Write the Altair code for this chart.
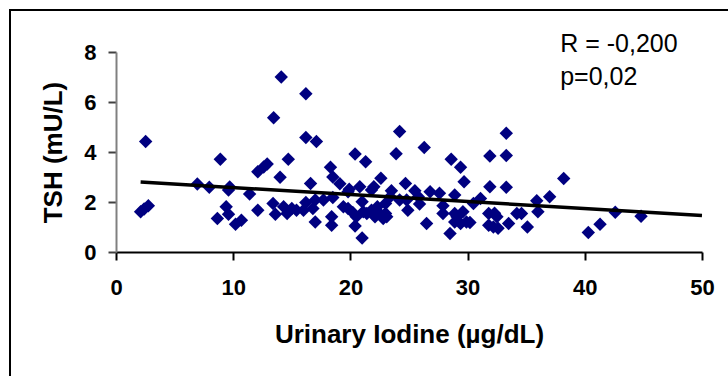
import altair as alt
import pandas as pd

# Urinary iodine (µg/dL)
iodine = [2.1, 2.4, 2.76, 2.53, 6.94, 7.96, 8.65, 8.9, 9.4, 9.6, 9.6, 9.7, 10.2, 10.7,
          11.4, 12.1, 12.1, 12.6, 12.9, 13.45, 13.4, 13.6, 14.0, 14.1, 14.3, 14.6, 14.7,
          15.0, 15.4, 16.0, 16.2, 16.2, 16.2, 16.6, 16.8, 17.0, 17.1, 17.0, 17.7, 18.3,
          18.4, 18.4, 18.5, 18.5, 19.1, 19.4, 19.8, 19.9, 19.8, 20.2, 20.4, 20.5, 20.4,
          20.8, 21.0, 21.0, 21.1, 21.3, 21.4, 21.8, 21.8, 22.0, 22.1, 22.3, 22.5, 22.6,
          22.7, 22.8, 23.0, 23.0, 23.1, 23.4, 23.5, 23.9, 24.2, 24.2, 24.7, 24.8, 24.9,
          25.5, 25.8, 25.9, 26.3, 26.5, 26.8, 27.6, 27.9, 27.9, 28.5, 28.6, 28.9, 28.9,
          28.9, 29.1, 29.4, 29.4, 29.6, 29.7, 29.9, 30.2, 30.5, 31.1, 31.8, 31.8, 31.9,
          31.9, 32.2, 32.3, 32.5, 32.6, 33.3, 33.3, 33.3, 33.5, 34.2, 34.6, 35.1, 35.9,
          36.0, 37.0, 38.2, 40.3, 41.3, 42.6, 44.8]
# TSH (mU/L)
tsh = [1.61, 1.72, 1.85, 4.42, 2.72, 2.59, 1.34, 3.71, 1.81, 1.51, 2.48, 2.6, 1.11, 1.27,
       2.32, 1.67, 3.21, 3.4, 3.52, 5.37, 1.94, 1.51, 2.99, 7.0, 1.81, 1.54, 3.71,
       1.74, 1.67, 1.67, 1.98, 4.58, 6.33, 2.74, 1.74, 1.2, 4.42, 2.08, 2.08, 3.39,
       1.07, 1.41, 2.18, 3.0, 2.73, 1.81, 2.41, 2.51, 1.74, 1.58, 1.04, 1.41, 3.92,
       2.61, 2.01, 0.56, 1.61, 3.61, 1.54, 2.48, 1.67, 2.61, 1.41, 1.81, 1.54, 2.95,
       1.41, 1.34, 1.94, 1.54, 1.41, 2.21, 2.45, 3.93, 4.82, 2.08, 2.74, 2.08, 1.67,
       2.45, 2.21, 1.92, 4.18, 1.14, 2.41, 2.35, 1.85, 1.54, 0.74, 3.71, 2.28, 1.54,
       1.2, 1.41, 3.39, 1.14, 1.61, 2.81, 1.2, 1.18, 1.94, 2.14, 1.54, 1.07, 2.61,
       3.84, 1.0, 1.55, 1.41, 0.95, 4.75, 3.86, 2.59, 1.14, 1.54, 1.54, 1.0, 2.05,
       1.61, 2.21, 2.94, 0.78, 1.11, 1.59, 1.43]

# Trend line endpoints
trend_x = [2.1, 50]
trend_y = [2.80, 1.46]

# Annotation
ann_text = ["R = -0,200", "p=0,02"]
ann_x = [37.9, 37.9]
ann_y = [8.02, 6.69]

x_ticks = [0, 10, 20, 30, 40, 50]
y_ticks = [0, 2, 4, 6, 8]

pts = pd.DataFrame({"iodine": iodine, "tsh": tsh})
trend = pd.DataFrame({"iodine": trend_x, "tsh": trend_y})
ann = pd.DataFrame({"text": ann_text, "iodine": ann_x, "tsh": ann_y})

FONT = "Liberation Sans"

xscale = alt.Scale(domain=[0, 50], nice=False, zero=False)
yscale = alt.Scale(domain=[0, 8], nice=False, zero=False)

xaxis = alt.Axis(values=x_ticks, title="Urinary Iodine (µg/dL)", grid=False,
                 domainColor="#000000", domainWidth=2, tickColor="#000000", tickWidth=2,
                 tickSize=8, labelFont=FONT, labelFontSize=22, labelFontWeight="bold",
                 labelColor="#000000", labelPadding=17, titleFont=FONT, titleFontSize=26,
                 titleFontWeight="bold", titleColor="#000000", titlePadding=23,
                 labelFlush=False)
yaxis = alt.Axis(values=y_ticks, title="TSH (mU/L)", grid=False,
                 domainColor="#808080", domainWidth=2, tickColor="#404040", tickWidth=2,
                 tickSize=8, labelFont=FONT, labelFontSize=22, labelFontWeight="bold",
                 labelColor="#000000", labelPadding=12, titleFont=FONT, titleFontSize=26,
                 titleFontWeight="bold", titleColor="#000000", titlePadding=17,
                 labelFlush=False)

points = alt.Chart(pts).mark_point(shape="diamond", filled=True, size=180,
                                   color="#000080", opacity=1).encode(
    x=alt.X("iodine:Q", scale=xscale, axis=xaxis),
    y=alt.Y("tsh:Q", scale=yscale, axis=yaxis),
)

line = alt.Chart(trend).mark_line(color="#000000", strokeWidth=3.5).encode(
    x=alt.X("iodine:Q", scale=xscale),
    y=alt.Y("tsh:Q", scale=yscale),
)

texts = alt.Chart(ann).mark_text(font=FONT, fontSize=25, align="left",
                                 baseline="alphabetic", color="#000000").encode(
    x=alt.X("iodine:Q", scale=xscale),
    y=alt.Y("tsh:Q", scale=yscale),
    text="text:N",
)

frame = alt.Chart(pd.DataFrame({"a": [0]})).mark_rect(
    filled=False, stroke="#000000", strokeWidth=2, fill=None).encode(
    x=alt.value(-106), x2=alt.value(700), y=alt.value(-42), y2=alt.value(400)
)

chart = alt.layer(frame, points, line, texts).properties(
    width=586, height=200,
    autosize=alt.AutoSizeParams(type="none"),
    padding={"left": 116, "top": 52, "right": 26, "bottom": 124},
    background="#ffffff",
).configure_view(stroke=None)

chart.save("out.html", embed_options={"renderer": "svg", "actions": False})
